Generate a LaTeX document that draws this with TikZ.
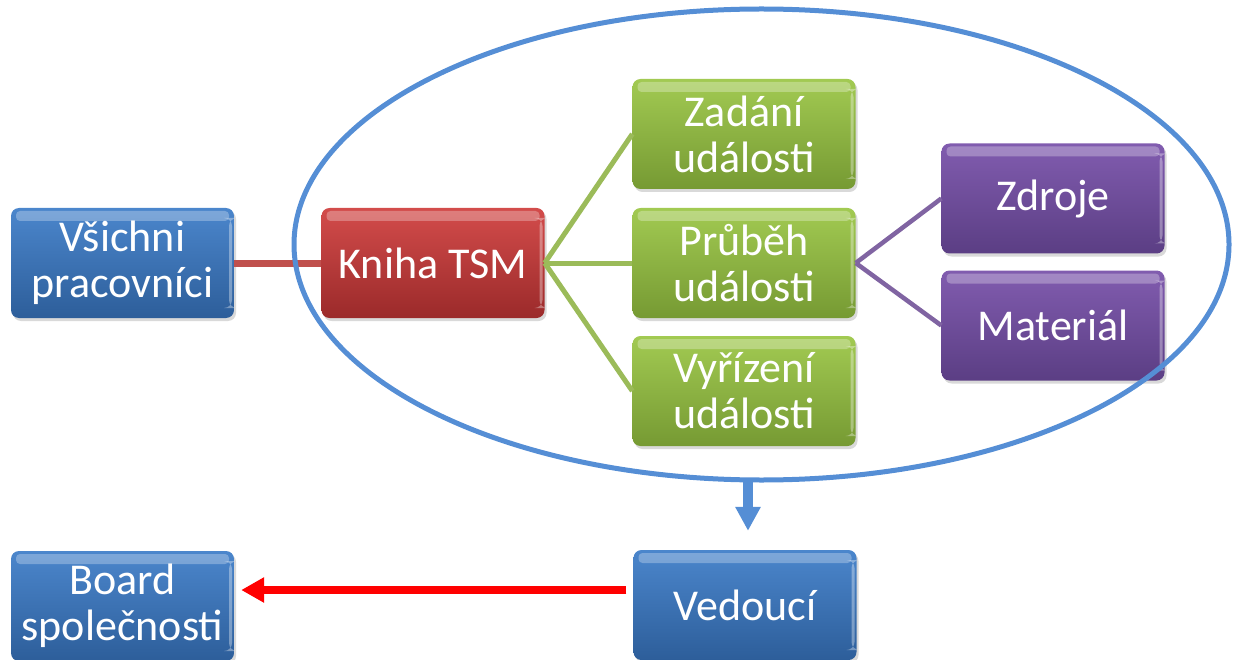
\documentclass[tikz,border=0pt]{standalone}
\usepackage{fontspec}
\setmainfont{Carlito}
\usetikzlibrary{shapes.geometric,arrows.meta,shadows}

\definecolor{blueTop}{HTML}{4B86CC}
\definecolor{blueBot}{HTML}{2D5E9A}
\definecolor{redTop}{HTML}{D34C4B}
\definecolor{redBot}{HTML}{9B2A2A}
\definecolor{greenTop}{HTML}{A2CA52}
\definecolor{greenBot}{HTML}{769A33}
\definecolor{purpleTop}{HTML}{815CAF}
\definecolor{purpleBot}{HTML}{5B3E84}
\definecolor{redLink}{HTML}{C0504D}
\definecolor{greenLink}{HTML}{9BBB59}
\definecolor{purpleLink}{HTML}{8064A2}
\definecolor{ringBlue}{HTML}{558ED5}
\definecolor{arrowRed}{HTML}{FF0000}

\tikzset{
  glossbox/.style={
    rectangle, rounded corners=8pt, minimum width=223pt, minimum height=110pt,
    inner sep=0pt, align=center, text=white,
    font=\fontsize{44}{46}\selectfont,
    drop shadow={opacity=0.3, shadow xshift=2pt, shadow yshift=-3pt},
    path picture={
      \fill[white, opacity=0.28, rounded corners=4pt]
        ([xshift=5pt, yshift=-3pt]path picture bounding box.north west)
        rectangle ([xshift=-5pt, yshift=-13pt]path picture bounding box.north east);
      \fill[white, opacity=0.35]
        ([xshift=-5pt, yshift=-10pt]path picture bounding box.north east)
        rectangle ([xshift=-2pt, yshift=10pt]path picture bounding box.south east);
    }
  },
  bluebox/.style={glossbox, top color=blueTop, bottom color=blueBot},
  redbox/.style={glossbox, top color=redTop, bottom color=redBot},
  greenbox/.style={glossbox, top color=greenTop, bottom color=greenBot},
  purplebox/.style={glossbox, top color=purpleTop, bottom color=purpleBot},
  redline/.style={draw=redLink, line width=7pt},
  greenline/.style={draw=greenLink, line width=5pt},
  purpleline/.style={draw=purpleLink, line width=4.5pt},
}

\begin{document}
\begin{tikzpicture}[x=1pt, y=-1pt]
  \useasboundingbox (0,0) rectangle (1233,660);

  % boxes
  \node[bluebox]   (vp)      at (122.5,263) {Všichni\\pracovníci};
  \node[redbox]    (kniha)   at (433,263)   {Kniha TSM};
  \node[greenbox]  (zadani)  at (744,134)   {Zadání\\události};
  \node[greenbox]  (prubeh)  at (744,263)   {Průběh\\události};
  \node[greenbox]  (vyrizeni) at (744,391)  {Vyřízení\\události};
  \node[purplebox] (zdroje)  at (1053,198.5) {Zdroje};
  \node[purplebox] (material) at (1053,325.5) {Materiál};
  \node[bluebox]   (vedouci) at (745,605)   {Vedoucí};
  \node[bluebox]   (board)   at (122.5,606) {Board\\společnosti};

  % links between boxes
  \draw[redline] (vp.east) -- (kniha.west);
  \draw[greenline] (kniha.east) -- (zadani.west);
  \draw[greenline] (kniha.east) -- (prubeh.west);
  \draw[greenline] (kniha.east) -- (vyrizeni.west);
  \draw[purpleline] (prubeh.east) -- (zdroje.west);
  \draw[purpleline] (prubeh.east) -- (material.west);

  % grouping ring around the event book
  \node[ellipse, draw=ringBlue, line width=5pt, inner sep=0pt,
        minimum width=935pt, minimum height=471pt] (ring) at (761.5,244.5) {};

  % flow from the group to the manager, then to the board
  \coordinate (drop) at (748,478);
  \draw[ringBlue, line width=10pt, -{Triangle[length=24pt, width=24pt]}, shorten >=19pt]
    (drop) -- (drop |- vedouci.north);
  \coordinate (report) at ([yshift=15pt]vedouci.west);
  \draw[arrowRed, line width=8pt, -{Triangle[length=23pt, width=24pt]},
        shorten <=7pt, shorten >=7pt]
    (report) -- (report -| board.east);
\end{tikzpicture}
\end{document}
